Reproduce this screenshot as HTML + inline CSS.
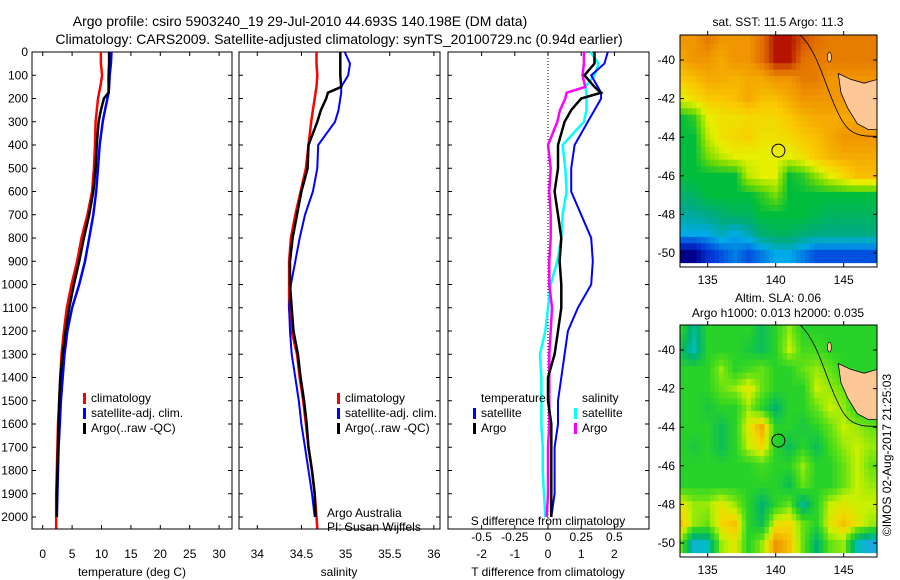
<!DOCTYPE html>
<html><head><meta charset="utf-8">
<style>
body{margin:0;background:#fff;}
svg{display:block;font-family:"Liberation Sans",sans-serif;}
</style></head>
<body>
<svg id="fig" width="900" height="580" viewBox="0 0 900 580">
<text x="300" y="26" font-size="14" text-anchor="middle">Argo profile: csiro 5903240_19 29-Jul-2010 44.693S 140.198E (DM data)</text>
<text x="339" y="44" font-size="14" text-anchor="middle">Climatology: CARS2009. Satellite-adjusted climatology: synTS_20100729.nc (0.94d earlier)</text>
</svg>
<script>
const depths=[0,50,100,150,175,200,250,300,400,500,600,700,800,900,1000,1100,1200,1300,1400,1500,1600,1700,1800,1900,2000,2050];
const tClim=[9.9,9.9,10.1,9.8,9.6,9.4,9.2,9.0,8.9,8.7,8.4,7.6,6.6,5.85,4.9,4.1,3.6,3.2,3.0,2.8,2.6,2.5,2.4,2.3,2.3,2.3];
const tSat=[11.7,11.6,11.4,11.3,11.2,11.0,10.6,10.2,9.7,9.4,9.1,8.6,7.9,7.2,6.2,5.0,4.2,3.7,3.4,3.1,2.9,2.7,2.6,2.5,2.4,null];
const tArgo=[11.3,11.3,11.2,11.2,11.2,10.4,9.9,9.5,9.2,9.0,8.6,7.9,7.0,6.2,5.3,4.5,3.9,3.4,3.0,2.8,2.7,2.6,2.5,2.4,2.4,null];
const sClim=[34.67,34.67,34.68,34.67,34.66,34.65,34.63,34.61,34.58,34.55,34.49,34.43,34.38,34.36,34.36,34.36,34.39,34.45,34.48,34.52,34.55,34.58,34.62,34.65,34.67,34.68];
const sSat=[34.99,35.05,35.03,34.95,34.95,34.94,34.92,34.88,34.69,34.68,34.63,34.54,34.48,34.43,34.38,34.36,34.37,34.39,34.43,34.47,34.50,34.54,34.58,34.62,34.65,null];
const sArgo=[34.94,34.94,34.94,34.95,34.80,34.78,34.72,34.68,34.58,34.57,34.50,34.45,34.40,34.37,34.37,34.39,34.41,34.46,34.49,34.53,34.56,34.58,34.62,34.65,34.66,null];
const depthTicks=[0,100,200,300,400,500,600,700,800,900,1000,1100,1200,1300,1400,1500,1600,1700,1800,1900,2000];
const tTicks=[0,5,10,15,20,25,30];
const sTicks=[34,34.5,35,35.5,36];
const dTTicks=[-2,-1,0,1,2];
const dSTicks=[-0.5,-0.25,0,0.25,0.5];
const dSTickLabels=["-0.5","-0.25","0","0.25","0.5"];
const mapLons=[133,134,135,136,137,138,139,140,141,142,143,144,145,146,147];
const mapLats=[-39,-40,-41,-42,-43,-44,-45,-46,-47,-48,-49,-50];
const sstGrid=[
[12,12,12.2,12,12,12,12.3,12.8,12.8,12.5,12.3,12.2,12.2,12.2,12.2],
[11.8,12,12,11.8,12,12,12.3,12.8,12.8,12.3,12.2,12.2,12.2,12.2,12.2],
[11.5,11.6,11.8,11.8,11.7,11.8,11.8,12,12,12.2,12.2,12,12,12,12],
[11,11.2,11.5,11.5,11.6,11.8,11.6,11.6,11.8,12,12,12,12,12,12],
[10,10.2,11,11.2,11.2,11.3,11.3,11.3,11.5,11.7,11.8,11.8,11.8,11.8,11.8],
[10,10,10.8,11.2,11.3,11.4,11.2,11.2,11.3,11.5,11.6,11.8,12,12,12],
[10,10,10.5,10.8,11,11,11,11,11,11.2,11.5,11.7,11.8,11.8,11.8],
[10,10,10,10,10,10.8,11,11,10,10.2,10.6,11,11.3,11.6,11.6],
[9.7,9.8,10,10,10,10,10.2,10.5,10,10,10,10,10,10,10],
[9.5,9.5,9.6,9.7,9.8,9.8,10,10,10,10,9.9,9.8,9.8,9.8,9.8],
[9.2,9.2,9.2,9.4,9.2,9.4,9.7,9.8,9.8,9.7,9.6,9.6,9.6,9.6,9.6],
[8.2,8.2,8.6,8.8,9,8.8,9,9.2,9.2,9.0,8.8,8.8,8.8,8.8,8.8]];
const slaGrid=[
[0,-0.04,0,0,0,0,-0.02,0,0.03,0,0,0,0,0,0],
[-0.02,-0.05,0,0,0,-0.01,-0.02,0,0.04,0.01,0.01,0,0,0,0],
[0,0,0,0.03,0,0.01,0.02,0,0,0.02,0.03,0.02,0,0,0],
[0,0,0,0.02,0.03,0.05,0.02,0,0,0,0.04,0.03,0.02,0,0],
[0,0,-0.01,0,0,0.03,0,-0.03,0,0,0.02,0.04,0.03,0,0],
[0,0,0,-0.02,0,0.05,0.08,0,0,-0.01,0,0.02,0.04,0.03,0.02],
[0,-0.01,0,-0.02,0,0.04,0.06,0,-0.02,0,-0.02,0.01,0.03,0.04,0.03],
[0,0,0,0,0,0,0.01,0,0,0.03,0,0,0.02,0.04,0.02],
[0,0,0,0,0,0,0,0,-0.02,0.02,0,0,0.02,0.04,0.03],
[0.05,0.03,0.03,0.05,0.03,0,-0.03,0,0.02,-0.04,0,0.04,0.05,0.04,0.04],
[0.07,0.03,0.02,0.06,0.07,0,-0.02,0.05,0.06,0.02,0,0.05,0.07,0.05,0.03],
[0.02,-0.06,-0.05,0.03,0.05,0,0.03,0.09,0.07,0.02,-0.03,0.02,0.03,-0.05,-0.07]];

const NS="http://www.w3.org/2000/svg";
const svg=document.getElementById('fig');
function mk(tag,attrs,parent){const e=document.createElementNS(NS,tag);for(const k in attrs)e.setAttribute(k,attrs[k]);(parent||svg).appendChild(e);return e;}
function txt(x,y,s,anchor,size){const t=mk('text',{x:x,y:y,'font-size':size||12,'text-anchor':anchor||'middle'});t.textContent=s;return t;}

const PT=52,PB=529;
const yD=d=>PT+d*(465/2000);
const panels=[{x0:32,x1:232},{x0:239,x1:440},{x0:448,x1:649}];
const xT=v=>42.7+v*5.88;
const xS=v=>257.3+(v-34)*88.3;
const xDT=v=>548+v*33.2;
const xDS=v=>548+v*132.8;

panels.forEach((p,i)=>{
  const r=mk('rect',{x:p.x0,y:PT,width:p.x1-p.x0,height:PB-PT,fill:'none',stroke:'#000','stroke-width':1});
  
  
  depthTicks.forEach(d=>{
    mk('line',{x1:p.x0,x2:p.x0+4,y1:yD(d),y2:yD(d),stroke:'#000'});
    mk('line',{x1:p.x1,x2:p.x1-4,y1:yD(d),y2:yD(d),stroke:'#000'});
  });
});
depthTicks.forEach(d=>{
  const t=txt(28,yD(d)+4,String(d),'end',12);
  
  
});

function xTicks(vals,labels,fx,yLab){
  vals.forEach((v,i)=>{
    const x=fx(v);
    mk('line',{x1:x,x2:x,y1:PB,y2:PB-4,stroke:'#000'});
    mk('line',{x1:x,x2:x,y1:PT,y2:PT+4,stroke:'#000'});
    if(yLab){const t=txt(x,yLab,labels[i],'middle',12);
      
      }
  });
}
xTicks(tTicks,tTicks.map(String),xT,558);
xTicks(sTicks,sTicks.map(String),xS,558);
xTicks(dTTicks,dTTicks.map(String),xDT,558);
dSTicks.forEach((v,i)=>{const t=txt(xDS(v),541,dSTickLabels[i],'middle',12);
  
  });

let a;
a=txt(132,576,'temperature (deg C)');
a=txt(339,576,'salinity');
a=txt(548,576,'T difference from climatology');
a=txt(548,525,'S difference from climatology');
a=txt(327,517,'Argo Australia','start');
a=txt(327,531,'PI: Susan Wijffels','start');

a=mk('line',{x1:xDT(0),x2:xDT(0),y1:PT,y2:PB,stroke:'#000','stroke-dasharray':'1,2'});


function series(vals,fx,color,name,w){
  const pts=[];
  vals.forEach((v,i)=>{if(v!==null&&v!==undefined&&!isNaN(v))pts.push(fx(v).toFixed(1)+','+yD(depths[i]).toFixed(1));});
  const l=mk('polyline',{points:pts.join(' '),fill:'none',stroke:color,'stroke-width':w||2.5,'stroke-linejoin':'miter'});
  
  
}
series(tClim,xT,'#f00','temp-climatology-line');
series(tSat,xT,'#00f','temp-satellite-line');
series(tArgo,xT,'#000','temp-argo-line');
series(sClim,xS,'#f00','sal-climatology-line');
series(sSat,xS,'#00f','sal-satellite-line',2);
series(sArgo,xS,'#000','sal-argo-line');
const diff=(a,b)=>a.map((v,i)=>(v===null||b[i]===null)?null:v-b[i]);
series(diff(sSat,sClim),xDS,'#0ff','sdiff-satellite-line');
series(diff(sArgo,sClim),xDS,'#f0f','sdiff-argo-line');
series(diff(tSat,tClim),xDT,'#00f','tdiff-satellite-line',2);
series(diff(tArgo,tClim),xDT,'#000','tdiff-argo-line');

function legendEntry(x,y,color,label,name){
  const g=mk('g',{});
  
  
  mk('rect',{x:x,y:y-9,width:3,height:11,fill:color},g);
  const t=mk('text',{x:x+8,y:y,'font-size':12},g);t.textContent=label;
}
legendEntry(83,402,'#f00','climatology','legend-climatology');
legendEntry(83,417,'#00f','satellite-adj. clim.','legend-satellite');
legendEntry(83,432,'#000','Argo(..raw -QC)','legend-argo');
legendEntry(337,402,'#f00','climatology','legend-sal-climatology');
legendEntry(337,417,'#00f','satellite-adj. clim.','legend-sal-satellite');
legendEntry(337,432,'#000','Argo(..raw -QC)','legend-sal-argo');
a=txt(481,402,'temperature','start');
a=txt(582,402,'salinity','start');
legendEntry(473,417,'#00f','satellite','legend-tdiff-satellite');
legendEntry(473,432,'#000','Argo','legend-tdiff-argo');
legendEntry(574,417,'#0ff','satellite','legend-sdiff-satellite');
legendEntry(574,432,'#f0f','Argo','legend-sdiff-argo');

function interp(stops,v){
  if(v<=stops[0][0])return 'rgb('+stops[0][1].join(',')+')';
  for(let i=1;i<stops.length;i++){if(v<=stops[i][0]){const [a0,c0]=stops[i-1],[a1,c1]=stops[i];const f=(v-a0)/(a1-a0);
    return 'rgb('+c0.map((c,k)=>Math.round(c+(c1[k]-c)*f)).join(',')+')';}}
  return 'rgb('+stops[stops.length-1][1].join(',')+')';
}
const sstStops=[[8.2,[0,0,140]],[8.7,[0,60,220]],[9.2,[0,170,230]],[9.6,[0,170,130]],[10,[0,190,60]],[10.5,[120,220,0]],[11,[230,240,0]],[11.5,[250,200,0]],[12,[240,150,0]],[12.4,[220,100,0]],[12.9,[170,0,0]]];
const slaStops=[[-0.08,[40,160,240]],[-0.05,[0,190,190]],[-0.03,[0,180,110]],[0,[40,210,40]],[0.02,[100,225,20]],[0.04,[200,240,0]],[0.06,[245,215,0]],[0.09,[240,150,0]]];

function sample(grid,r,c){
  const R=grid.length-1,C=grid[0].length-1;
  r=Math.max(0,Math.min(R,r));c=Math.max(0,Math.min(C,c));
  const r0=Math.floor(r),c0=Math.floor(c),r1=Math.min(R,r0+1),c1=Math.min(C,c0+1);
  const fr=r-r0,fc=c-c0;
  return grid[r0][c0]*(1-fr)*(1-fc)+grid[r0][c1]*(1-fr)*fc+grid[r1][c0]*fr*(1-fc)+grid[r1][c1]*fr*fc;
}
function drawMap(top,grid,stops,prefix){
  const L=680,R=877,B=top+232;
  const xL=lon=>775.7+(lon-140)*13.6;
  const yL=lat=>top+25+(-40-lat)*19.3;
  const g=mk('g',{});
  
  
  const cp=mk('clipPath',{id:prefix+'clip'},g);
  mk('rect',{x:L,y:top,width:R-L,height:B-top},cp);
  const cg=mk('g',{'clip-path':'url(#'+prefix+'clip)'},g);
  const sub=3;
  grid.forEach((row,ri)=>row.forEach((v,ci)=>{
    for(let a2=0;a2<sub;a2++)for(let b2=0;b2<sub;b2++){
      const rr=ri-0.5+(a2+0.5)/sub, cc=ci-0.5+(b2+0.5)/sub;
      const val=sample(grid,rr,cc);
      const c=mk('rect',{x:(xL(mapLons[ci]-0.5)+b2*13.6/sub).toFixed(1),y:(yL(mapLats[ri]+0.5)+a2*19.3/sub).toFixed(1),width:(13.6/sub+0.5).toFixed(2),height:(19.3/sub+0.5).toFixed(2),fill:interp(stops,val)},cg);
      
      
    }
  }));
  const tas=mk('path',{d:`M${xL(144.6)},${yL(-40.7)} L${xL(145.5)},${yL(-41)} L${xL(146.5)},${yL(-41.2)} L${xL(147.5)},${yL(-41)} L${xL(147.5)},${yL(-43.6)} L${xL(146.8)},${yL(-43.6)} L${xL(146)},${yL(-43.3)} L${xL(145.3)},${yL(-42.5)} L${xL(144.8)},${yL(-41.7)} Z`,fill:'#fdc896',stroke:'#000','stroke-width':0.8},cg);
  
  
  mk('ellipse',{cx:xL(143.95),cy:yL(-39.85),rx:2,ry:5,fill:'#fdc896',stroke:'#000','stroke-width':0.6},cg);
  mk('path',{d:`M${xL(141.8)},${yL(-38.7)} C${xL(143)},${yL(-39.5)} ${xL(143.5)},${yL(-41)} ${xL(144.3)},${yL(-42.3)} S${xL(145.5)},${yL(-44)} ${xL(147.5)},${yL(-43.95)}`,fill:'none',stroke:'#000','stroke-width':0.8},cg);
  mk('rect',{x:L,y:top,width:R-L,height:B-top,fill:'none',stroke:'#000'},g);
  const circ=mk('circle',{cx:xL(140.198),cy:yL(-44.693),r:6.5,fill:'none',stroke:'#000','stroke-width':1},g);
  
  
  [-40,-42,-44,-46,-48,-50].forEach(lat=>{
    mk('line',{x1:R,x2:R-4,y1:yL(lat),y2:yL(lat),stroke:'#000'},g);
    mk('line',{x1:L,x2:L+4,y1:yL(lat),y2:yL(lat),stroke:'#000'},g);
    const t=mk('text',{x:675,y:yL(lat)+4,'font-size':12,'text-anchor':'end'},g);t.textContent=String(lat);
    
  });
  [135,140,145].forEach(lon=>{
    mk('line',{x1:xL(lon),x2:xL(lon),y1:top,y2:top-4,stroke:'#000'},g);
    mk('line',{x1:xL(lon),x2:xL(lon),y1:B,y2:B-4,stroke:'#000'},g);
    const t=mk('text',{x:xL(lon),y:B+17,'font-size':12,'text-anchor':'middle'},g);t.textContent=String(lon);
    
  });
}
drawMap(35,sstGrid,sstStops,'sst');
drawMap(325,slaGrid,slaStops,'sla');
a=txt(778,26,'sat. SST: 11.5 Argo: 11.3');
a=txt(778,302,'Altim. SLA: 0.06');
a=txt(778,317,'Argo h1000: 0.013 h2000: 0.035');
a=mk('text',{x:0,y:0,'font-size':12,'text-anchor':'middle',transform:'translate(891,455) rotate(-90)'});
a.textContent='©IMOS 02-Aug-2017 21:25:03';


</script>
</body></html>
